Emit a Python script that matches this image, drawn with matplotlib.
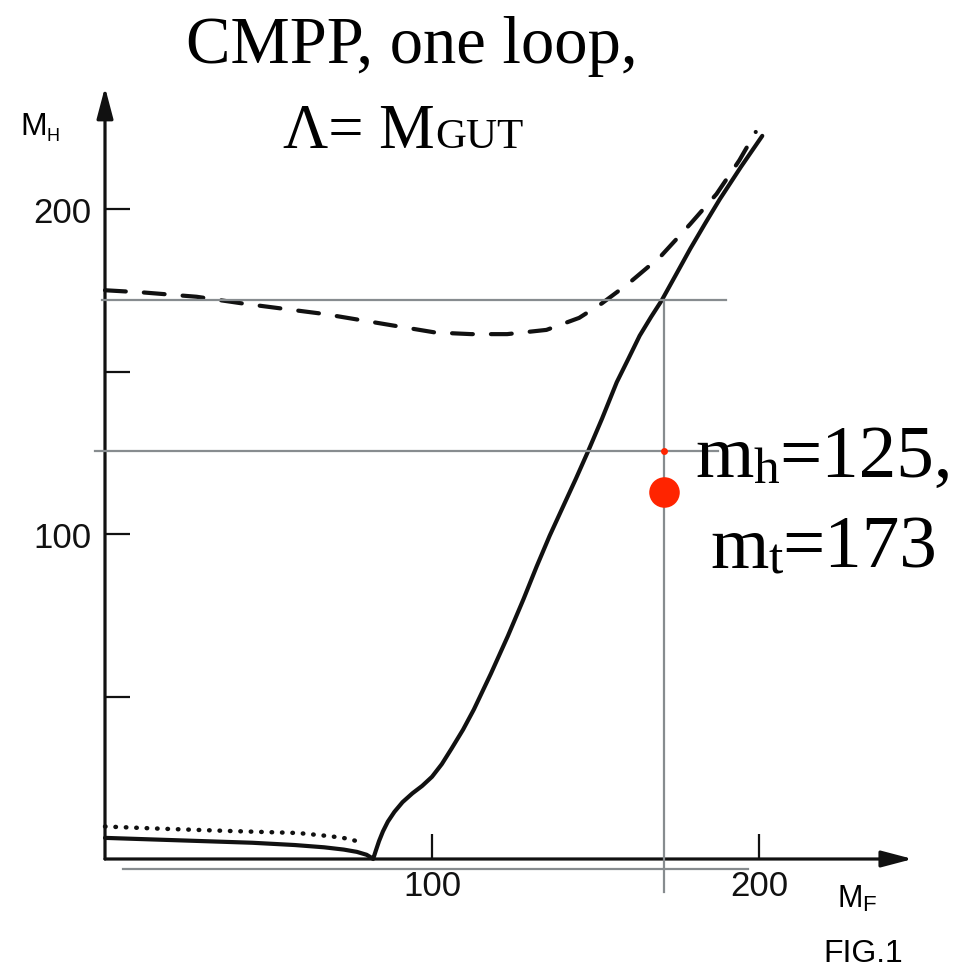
import matplotlib
matplotlib.use("Agg")
import matplotlib.pyplot as plt

# --- data (M_F on x, M_H on y) ---
solid_x = [0, 15, 30, 45, 58, 67, 73, 77, 80, 81.3, 82, 82.8, 83.8, 85, 86.5, 88.5,
           91, 94, 97, 100, 103, 106, 109.5, 112.8, 118, 123.2, 128, 132, 136, 140.2,
           144, 147.8, 152, 156.5, 160, 163.5, 167, 170.2, 174.5, 179, 183.5, 188,
           194.5, 201]
solid_y = [6.5, 6.0, 5.5, 5.0, 4.3, 3.6, 2.9, 2.2, 1.3, 0.5, 0, 2.5, 5.5, 8.5, 11.5, 14.5,
           17.5, 20.2, 22.5, 25.3, 29.2, 34, 39.8, 46, 57, 68.6, 80, 90, 99.5, 108.7,
           117, 125.6, 135.5, 146.7, 153.8, 161, 166.8, 171.8, 179.6, 187.8, 195.5, 203,
           213, 222.5]

dash_x = [0, 12, 28, 43, 67, 89, 101, 112, 123, 135, 145, 152, 160, 170, 179, 187, 194, 199]
dash_y = [175, 174.3, 173, 170.8, 167.7, 164, 162, 161.5, 161.5, 162.8, 166.5, 171,
          177, 185.5, 195.4, 204.6, 215, 223.7]

dot_x = [0, 15, 38.7, 59, 69, 74, 77]
dot_y = [10, 9.4, 8.6, 8.0, 7.0, 6.3, 5.5]

x_ticks = [100, 200]
x_tick_labels = ["100", "200"]
y_ticks = [50, 100, 150, 200]
y_tick_labels = ["", "100", "", "200"]

x_axis_end = 247
y_axis_end = 237.5

# guide lines drawn over the scan
mt_guide = 170.9      # vertical line (top mass)
mh_guide = 125.6      # horizontal line (Higgs mass)
top_guide = 172       # horizontal line through the crossing
base_guide = -3.1     # grey line just under the axis
red_x = 170.9
red_y = 112.8

W, H, DPI = 971, 970, 100
serif = "Liberation Serif"
sans = "Liberation Sans"
grey = "#878c8f"
red = "#ff2400"
ink = "#111111"

plt.rcParams["lines.scale_dashes"] = False

fig = plt.figure(figsize=(W / DPI, H / DPI), dpi=DPI)
ax = fig.add_axes([0, 0, 1, 1])
ax.set_xlim(-105 / 3.27, (W - 105) / 3.27)
ax.set_ylim(-110 / 3.25, (H - 110) / 3.25)
ax.patch.set_visible(False)

# axes through the origin, ticks pointing inwards
for side in ["top", "right"]:
    ax.spines[side].set_visible(False)
for side in ["left", "bottom"]:
    ax.spines[side].set_position(("data", 0))
    ax.spines[side].set_visible(False)
ax.set_xticks(x_ticks, x_tick_labels)
ax.set_yticks(y_ticks, y_tick_labels)
ax.tick_params(direction="in", length=18, width=1.6, color=ink, labelsize=25,
               labelcolor=ink)
ax.tick_params(axis="x", pad=7)
ax.tick_params(axis="y", pad=10)
for lab in ax.get_xticklabels() + ax.get_yticklabels():
    lab.set_family(sans)

arrow = dict(arrowstyle="-|>,head_length=19,head_width=5", mutation_scale=1,
             lw=2.3, color=ink, shrinkA=0, shrinkB=0)
ax.annotate("", xy=(x_axis_end, 0), xytext=(0, 0), arrowprops=arrow)
ax.annotate("", xy=(0, y_axis_end), xytext=(0, 0), arrowprops=arrow)

# curves
ax.plot(solid_x, solid_y, color=ink, lw=3, solid_capstyle="round", solid_joinstyle="round")
ax.plot(dash_x, dash_y, color=ink, lw=3, dashes=(15, 13), dash_capstyle="round")
ax.plot(dot_x, dot_y, color=ink, lw=3.2, dashes=(0.4, 7.1), dash_capstyle="round")

# grey guides + red point
ax.plot([-1, 190], [top_guide, top_guide], color=grey, lw=1.6, zorder=4)
ax.plot([-3, 187.5], [mh_guide, mh_guide], color=grey, lw=1.6, zorder=4)
ax.plot([mt_guide, mt_guide], [top_guide, -10], color=grey, lw=1.6, zorder=4)
ax.plot([5.5, 196.6], [base_guide, base_guide], color=grey, lw=1.6, zorder=4)
ax.plot([mt_guide], [mh_guide], "o", color=red, ms=5, mew=0, zorder=5)
ax.plot([red_x], [red_y], "o", color=red, ms=22, mew=0, zorder=5)

renderer = fig.canvas.get_renderer()


def put(x_px, y_px, pieces):
    # pieces: (text, size, family, baseline shift in px); laid out left to right
    x = x_px
    for s, size, fam, dy in pieces:
        t = fig.text(x / W, 1 - (y_px + dy) / H, s, fontsize=size, family=fam,
                     ha="left", va="baseline", color="black")
        x += t.get_window_extent(renderer).width


fig.text(412 / W, 1 - 63 / H, "CMPP, one loop,", fontsize=48, family=serif,
         ha="center", va="baseline")
put(283, 148, [("\u039b= M", 45, serif, 0), ("GUT", 31, serif, 0)])
put(695, 477, [("m", 54, serif, 0), ("h", 37, serif, 6), ("=125,", 54, serif, 0)])
put(710, 568, [("m", 54, serif, 0), ("t", 37, serif, 5), ("=173", 54, serif, 0)])

put(20, 135, [("M", 23, sans, 0), ("H", 13, sans, 6)])
put(837, 907, [("M", 22, sans, 0), ("F", 16, sans, 4)])
fig.text(823 / W, 1 - 962 / H, "FIG.1", fontsize=23, family=sans, ha="left",
         va="baseline")

fig.savefig("out.png", dpi=DPI)
